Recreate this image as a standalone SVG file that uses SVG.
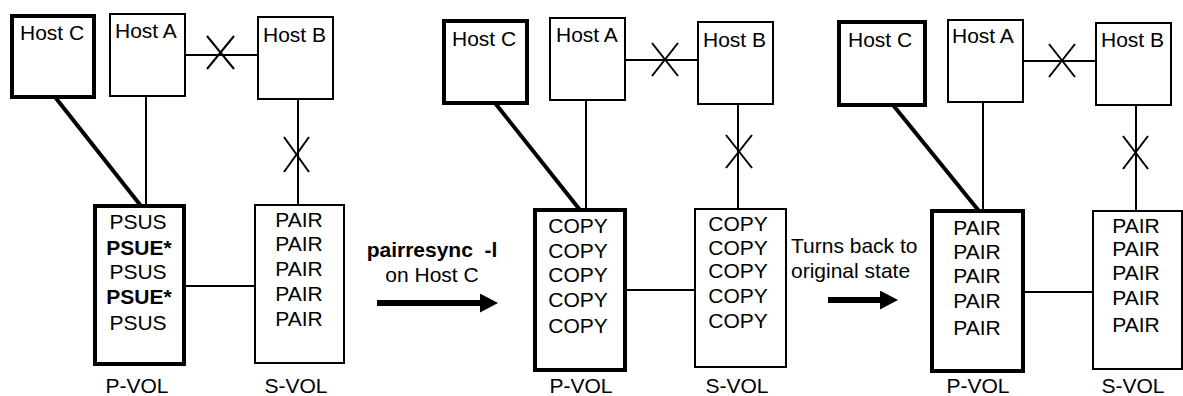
<svg xmlns="http://www.w3.org/2000/svg" width="1183" height="396" viewBox="0 0 1183 396">
<style>
text{font-family:"Liberation Sans",Arial,sans-serif;font-size:21px;fill:#000}
.b{font-weight:bold}
.m{text-anchor:middle}
.box{fill:#fff;stroke:#000;stroke-width:2}
.thick{fill:#fff;stroke:#000;stroke-width:4}
.ln{stroke:#000;stroke-width:2;fill:none}
.tl{stroke:#000;stroke-width:4;fill:none}
.arr{stroke:#000;stroke-width:6;fill:none}
</style>
<defs>
<marker id="ah" markerUnits="userSpaceOnUse" markerWidth="18" markerHeight="20" refX="0" refY="9.5" orient="auto">
<path d="M0,0 L18,9.5 L0,19 z" fill="#000"/>
</marker>
</defs>
<rect width="1183" height="396" fill="#fff"/>
<g id="connectors">
<!-- panel 1 -->
<line class="ln" x1="185" y1="55" x2="258" y2="55"/>
<line class="ln" x1="207" y1="36" x2="234" y2="69"/><line class="ln" x1="234" y1="36" x2="207" y2="69"/>
<line class="ln" x1="146" y1="96" x2="146" y2="206"/>
<line class="ln" x1="298" y1="99" x2="298" y2="205"/>
<line class="ln" x1="284" y1="137" x2="309" y2="172"/><line class="ln" x1="309" y1="137" x2="284" y2="172"/>
<line class="tl" x1="55" y1="97" x2="141" y2="206"/>
<line class="ln" x1="184" y1="286" x2="255" y2="286"/>
<!-- panel 2 -->
<line class="ln" x1="625" y1="60" x2="698" y2="60"/>
<line class="ln" x1="652" y1="43" x2="678" y2="76"/><line class="ln" x1="678" y1="43" x2="652" y2="76"/>
<line class="ln" x1="586" y1="100" x2="586" y2="210"/>
<line class="ln" x1="738" y1="104" x2="738" y2="209"/>
<line class="ln" x1="726" y1="135" x2="752" y2="168"/><line class="ln" x1="752" y1="135" x2="726" y2="168"/>
<line class="tl" x1="495" y1="103" x2="580" y2="210"/>
<line class="ln" x1="625" y1="290" x2="695" y2="290"/>
<!-- panel 3 -->
<line class="ln" x1="1023" y1="61" x2="1096" y2="61"/>
<line class="ln" x1="1049" y1="44" x2="1075" y2="77"/><line class="ln" x1="1075" y1="44" x2="1049" y2="77"/>
<line class="ln" x1="983" y1="102" x2="983" y2="211"/>
<line class="ln" x1="1136" y1="105" x2="1136" y2="211"/>
<line class="ln" x1="1123" y1="136" x2="1148" y2="169"/><line class="ln" x1="1148" y1="136" x2="1123" y2="169"/>
<line class="tl" x1="893" y1="105" x2="979" y2="211"/>
<line class="ln" x1="1023" y1="292" x2="1093" y2="292"/>
</g>
<g id="p1-hostC"><rect class="thick" x="12" y="16" width="82" height="81"/><text x="20" y="40">Host C</text></g>
<g id="p1-hostA"><rect class="box" x="110" y="14" width="75" height="82"/><text x="115" y="38">Host A</text></g>
<g id="p1-hostB"><rect class="box" x="258" y="17" width="75" height="82"/><text x="263" y="42">Host B</text></g>
<g id="p1-pvol"><rect class="thick" x="95" y="206" width="89" height="158"/>
<text class="m" x="138" y="229">PSUS</text><text class="m b" x="139" y="255">PSUE*</text><text class="m" x="138" y="279">PSUS</text><text class="m b" x="139" y="304">PSUE*</text><text class="m" x="138" y="330">PSUS</text>
<text class="m" x="137" y="393">P-VOL</text></g>
<g id="p1-svol"><rect class="box" x="255" y="205" width="89" height="158"/>
<text class="m" x="299" y="227">PAIR</text><text class="m" x="299" y="251">PAIR</text><text class="m" x="299" y="276">PAIR</text><text class="m" x="299" y="301">PAIR</text><text class="m" x="299" y="326">PAIR</text>
<text class="m" x="296" y="393">S-VOL</text></g>
<g id="p2-hostC"><rect class="thick" x="444" y="21" width="83" height="82"/><text x="452" y="46">Host C</text></g>
<g id="p2-hostA"><rect class="box" x="550" y="18" width="75" height="82"/><text x="556" y="42">Host A</text></g>
<g id="p2-hostB"><rect class="box" x="698" y="22" width="75" height="82"/><text x="703" y="47">Host B</text></g>
<g id="p2-pvol"><rect class="thick" x="535" y="210" width="90" height="160"/>
<text class="m" x="578" y="233">COPY</text><text class="m" x="578" y="258">COPY</text><text class="m" x="578" y="282">COPY</text><text class="m" x="578" y="307">COPY</text><text class="m" x="578" y="333">COPY</text>
<text class="m" x="581" y="393">P-VOL</text></g>
<g id="p2-svol"><rect class="box" x="695" y="209" width="91" height="158"/>
<text class="m" x="738" y="231">COPY</text><text class="m" x="738" y="255">COPY</text><text class="m" x="738" y="278">COPY</text><text class="m" x="738" y="303">COPY</text><text class="m" x="738" y="328">COPY</text>
<text class="m" x="737" y="393">S-VOL</text></g>
<g id="p3-hostC"><rect class="thick" x="839" y="22" width="86" height="83"/><text x="848" y="47">Host C</text></g>
<g id="p3-hostA"><rect class="box" x="948" y="20" width="75" height="82"/><text x="952" y="43">Host A</text></g>
<g id="p3-hostB"><rect class="box" x="1096" y="23" width="75" height="82"/><text x="1101" y="47">Host B</text></g>
<g id="p3-pvol"><rect class="thick" x="932" y="211" width="91" height="160"/>
<text class="m" x="977" y="235">PAIR</text><text class="m" x="977" y="259">PAIR</text><text class="m" x="977" y="283">PAIR</text><text class="m" x="977" y="308">PAIR</text><text class="m" x="977" y="335">PAIR</text>
<text class="m" x="978" y="393">P-VOL</text></g>
<g id="p3-svol"><rect class="box" x="1093" y="211" width="89" height="158"/>
<text class="m" x="1136" y="233">PAIR</text><text class="m" x="1136" y="256">PAIR</text><text class="m" x="1136" y="280">PAIR</text><text class="m" x="1136" y="305">PAIR</text><text class="m" x="1136" y="332">PAIR</text>
<text class="m" x="1133" y="393">S-VOL</text></g>
<g id="transitions">
<text class="m b" x="432" y="257" xml:space="preserve">pairresync  -l</text>
<text class="m" x="432" y="282">on Host C</text>
<line class="arr" x1="377" y1="303" x2="480" y2="303" marker-end="url(#ah)"/>
<text x="791" y="253">Turns back to</text>
<text x="791" y="278">original state</text>
<line class="arr" x1="828" y1="300" x2="880" y2="300" marker-end="url(#ah)"/>
</g>
</svg>
